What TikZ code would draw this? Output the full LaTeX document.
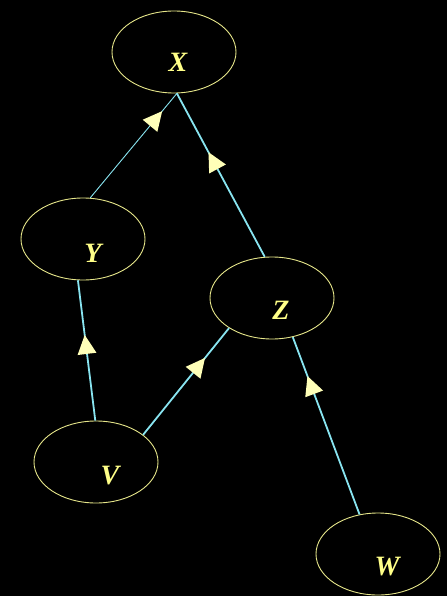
\documentclass[tikz,border=0pt]{standalone}
\usepackage{fontspec}
\setmainfont{Liberation Serif}
\usetikzlibrary{shapes.geometric,arrows.meta,decorations.markings}
\definecolor{ellcol}{HTML}{E6E68A}
\definecolor{txtcol}{HTML}{FFFF88}
\definecolor{linecol}{HTML}{88E4F0}
\definecolor{headcol}{HTML}{FFFFB8}
\tikzset{
  ell/.style={ellipse, draw=ellcol, line width=0.9pt, minimum width=124pt, minimum height=82pt, inner sep=0pt},
  lbl/.style={text=txtcol, font=\fontsize{28}{30}\selectfont\bfseries\itshape, inner sep=0pt},
  edge/.style={draw=linecol, line width=1.8pt},
  thinedge/.style={draw=linecol, line width=0.9pt},
  midarrow/.style={postaction={decorate}, decoration={markings,
     mark=at position #1 with {\arrow[headcol, line width=0pt]{Triangle[length=19pt, width=19pt]}}}}
}
\begin{document}
\begin{tikzpicture}[x=1pt,y=-1pt]
\fill[black] (0,0) rectangle (447,596);
\useasboundingbox (0,0) rectangle (447,596);
\node[ell] (X) at (174,52) {};
\node[ell] (Y) at (83,239) {};
\node[ell] (Z) at (272,298) {};
\node[ell] (V) at (96,462) {};
\node[ell] (W) at (378,554) {};
\node[lbl] (Xl) at (178,62) {X};
\node[lbl] (Yl) at (93,253) {Y};
\node[lbl] (Zl) at (281,310) {Z};
\node[lbl] (Vl) at (110,476) {V};
\node[lbl] (Wl) at (387,567) {W};
\draw[thinedge, midarrow=0.83] (Y.80) -- (X.-86);
\draw[edge, midarrow=0.64] (Z.100) -- (X.-86);
\draw[edge, midarrow=0.61] (V.91) -- (Y.-97);
\draw[edge, midarrow=0.72] (V.30) -- (Z.-145);
\draw[edge, midarrow=0.78] (W.115) -- (Z.-62);
\end{tikzpicture}
\end{document}
